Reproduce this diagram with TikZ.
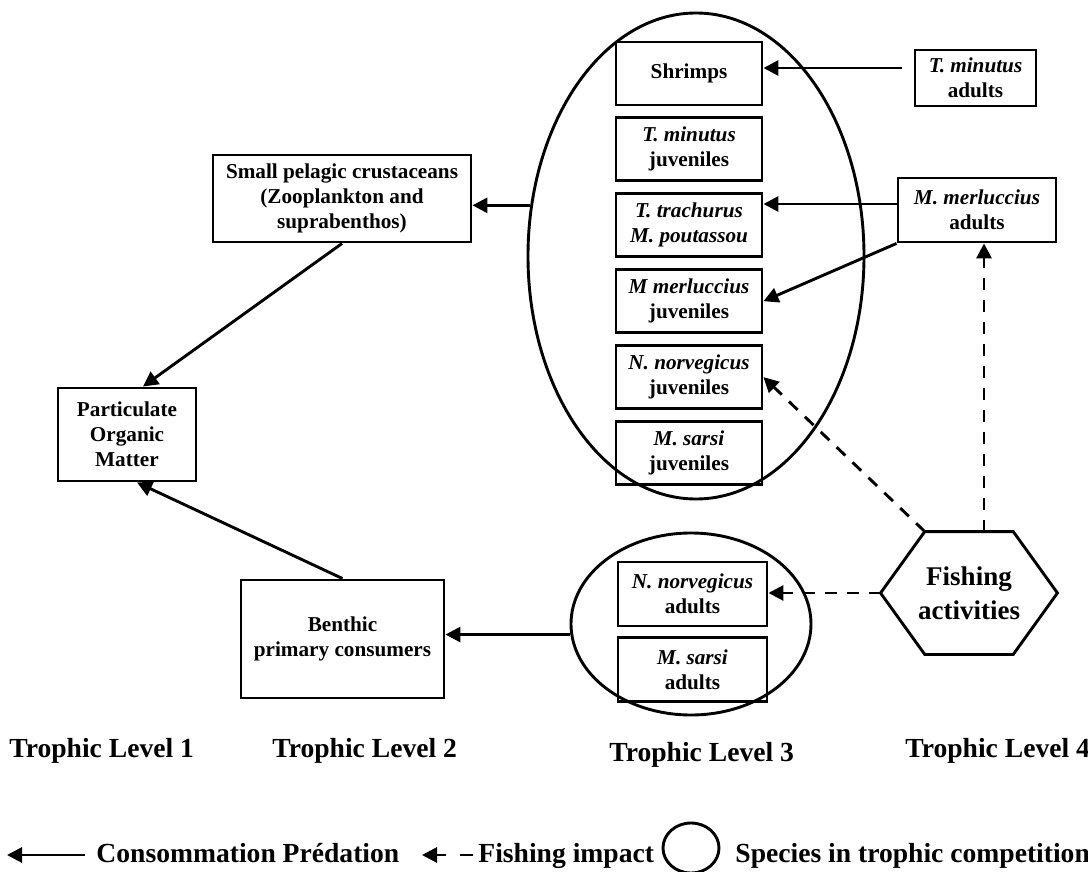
\documentclass[tikz,border=0pt]{standalone}
\usepackage{fontspec}
\setmainfont{Liberation Serif}
\usetikzlibrary{arrows.meta,positioning,calc,shapes.geometric}

\begin{document}
\begin{tikzpicture}[
  x=0.5pt, y=-0.5pt,
  line width=1.45pt,
  sp/.style={draw, align=center, inner sep=1pt, minimum width=73pt, minimum height=31.5pt, font=\fontsize{10.6}{12.5}\selectfont\bfseries},
  grp/.style={draw, ellipse, inner sep=0pt},
  lvl/.style={anchor=base west, inner sep=0pt, font=\fontsize{13.8}{16}\selectfont\bfseries},
  arrow/.style={-{Triangle[length=7.5pt,width=7.5pt]}},
  fisharrow/.style={arrow, dash pattern=on 6pt off 5pt}
]
  \useasboundingbox (0,0) rectangle (1088,872);

  % groups in trophic competition
  \node[grp, minimum width=168pt, minimum height=243pt] (bigcomp) at (696,256) {};
  \node[grp, minimum width=120pt, minimum height=91pt] (smallcomp) at (691,624) {};

  % trophic level 3
  \node[sp] (shrimps) at (689,73.5) {Shrimps};
  \node[sp, below=5pt of shrimps] (tmjuv) {\textit{T. minutus}\\juveniles};
  \node[sp, below=5pt of tmjuv] (ttrach) {\textit{T. trachurus}\\\textit{M. poutassou}};
  \node[sp, below=5pt of ttrach] (mmjuv) {\textit{M merluccius}\\juveniles};
  \node[sp, below=5pt of mmjuv] (nnjuv) {\textit{N. norvegicus}\\juveniles};
  \node[sp, below=5pt of nnjuv] (msjuv) {\textit{M. sarsi}\\juveniles};
  \node[sp, minimum width=74.5pt, minimum height=32pt] (nnad) at (692.5,594) {\textit{N. norvegicus}\\adults};
  \node[sp, minimum width=74.5pt, minimum height=32pt, below=4.5pt of nnad] (msad) {\textit{M. sarsi}\\adults};

  % trophic level 4
  \node[sp, minimum width=60.5pt, minimum height=28pt] (tmad) at (975.5,78) {\textit{T. minutus}\\adults};
  \node[sp, minimum width=79pt, minimum height=32pt] (mmad) at (977,210) {\textit{M. merluccius}\\adults};
  \node[align=center, minimum width=87pt, minimum height=60pt, font=\fontsize{13.5}{17}\selectfont\bfseries] (fish) at (969,593) {Fishing\\activities};
  \coordinate (fishnw) at ($(fish.north west)!.25!(fish.north east)$);
  \coordinate (fishne) at ($(fish.north west)!.75!(fish.north east)$);
  \coordinate (fishse) at ($(fish.south west)!.75!(fish.south east)$);
  \coordinate (fishsw) at ($(fish.south west)!.25!(fish.south east)$);
  \draw (fish.west) -- (fishnw) -- (fishne) -- (fish.east) -- (fishse) -- (fishsw) -- cycle;

  % trophic levels 1 and 2
  \node[sp, minimum width=129pt, minimum height=43.5pt] (smallpel) at (342,198.5) {Small pelagic crustaceans\\(Zooplankton and\\suprabenthos)};
  \node[sp, minimum width=69pt, minimum height=46.5pt] (pom) at (127,434.5) {Particulate\\Organic\\Matter};
  \node[sp, minimum width=101.5pt, minimum height=59pt] (benthic) at (342.5,639) {Benthic\\primary consumers};

  % consumption / predation
  \coordinate (tmfrom) at ([xshift=-6pt,yshift=5pt]tmad.west);
  \draw[arrow] (tmfrom) -- (tmfrom -| shrimps.east);
  \coordinate (mmfrom) at ([yshift=3pt]mmad.west);
  \draw[arrow] (mmfrom) -- (mmfrom -| ttrach.east);
  \draw[arrow] (mmad.south west) -- (mmjuv.east);
  \draw[arrow] (bigcomp.163) -- (bigcomp.163 -| smallpel.east);
  \draw[arrow] (smallcomp.185) -- (smallcomp.185 -| benthic.east);
  \draw[arrow] (smallpel.south) -- ([xshift=8pt]pom.north);
  \draw[arrow] (benthic.north) -- ([xshift=5pt]pom.south);

  % fishing impact
  \coordinate (fishtop) at ([xshift=7.5pt]fish.north);
  \draw[fisharrow] (fishtop) -- (fishtop |- mmad.south);
  \draw[fisharrow] (fishnw) -- (nnjuv.east);
  \draw[fisharrow] (fish.west) -- (fish.west -| nnad.east);

  % trophic levels
  \node[lvl] (lvl1) at (8,757) {Trophic Level 1};
  \node[lvl] (lvl2) at (271,757) {Trophic Level 2};
  \node[lvl] (lvl3) at (608,761) {Trophic Level 3};
  \node[lvl] (lvl4) at (904,757) {Trophic Level 4};

  % legend
  \node[lvl] (legcons) at (95,862) {Consommation Prédation};
  \node[lvl] (legfish) at (477,862) {Fishing impact};
  \node[grp, minimum width=28pt, minimum height=25pt] (legcomp) at (691,848) {};
  \node[lvl] (legspec) at (734,862) {Species in trophic competition};
  \coordinate (legcons0) at (7,855);
  \draw[arrow, shorten <=5pt] (legcons.west |- legcons0) -- (legcons0);
  \coordinate (legfish0) at (422,855);
  \draw[arrow, dash pattern=on 6.5pt off 7pt, shorten <=2pt] (legfish.west |- legfish0) -- (legfish0);
\end{tikzpicture}
\end{document}
